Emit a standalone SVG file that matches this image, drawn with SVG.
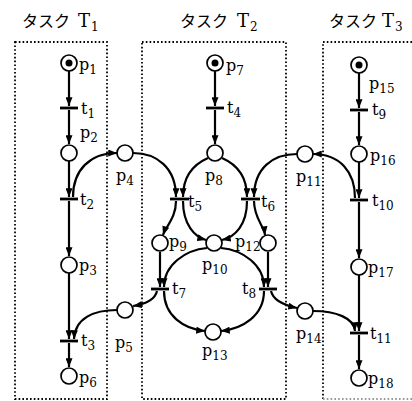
<svg xmlns="http://www.w3.org/2000/svg" width="412" height="401" viewBox="0 0 412 401">
<style>
.box{fill:none;stroke:#000;stroke-width:1.8;stroke-dasharray:1.6 2.2}
.pl{fill:#fff;stroke:#000;stroke-width:1.7}
.tok{fill:#000}
.tr{stroke:#000;stroke-width:2.8}
.arc{fill:none;stroke:#000;stroke-width:2.2;marker-end:url(#ah)}
.lb{font-family:"DejaVu Serif","Liberation Serif",serif;font-size:16px;fill:#000}
.sb{font-size:12px}
.kt{font-family:"Noto Sans CJK JP",sans-serif;font-size:16px;fill:#000}
.tt{font-family:"DejaVu Serif","Liberation Serif",serif;font-size:18px;fill:#000}
</style>
<defs>
<marker id="ah" viewBox="0 0 10 8" refX="10" refY="4" markerWidth="9" markerHeight="7" markerUnits="userSpaceOnUse" orient="auto"><path d="M0,0 L10,4 L0,8 z" fill="#000"/></marker>
</defs>
<rect width="412" height="401" fill="#fff"/>
<g id="titles">
<text class="kt" x="22" y="27">タスク</text><text class="tt" x="78" y="27">T<tspan class="sb" x="91" dy="4">1</tspan></text>
<text class="kt" x="180" y="27">タスク</text><text class="tt" x="237" y="27">T<tspan class="sb" x="250" dy="4">2</tspan></text>
<text class="kt" x="329" y="27">タスク</text><text class="tt" x="382" y="27">T<tspan class="sb" x="395" dy="4">3</tspan></text>
</g>
<g id="boxes">
<rect class="box" x="15" y="42" width="92" height="357"/>
<rect class="box" x="142" y="42" width="144" height="357"/>
<path class="box" d="M412,42 L323,42 L323,399"/>
<path class="box" d="M323,399 L412,399" style="stroke:#999"/>
</g>
<g id="connectors">
<path class="arc" d="M69,71 L69,106"/>
<path class="arc" d="M69,110 L69,144"/>
<path class="arc" d="M69,161 L69,197"/>
<path class="arc" d="M69,201 L69,256"/>
<path class="arc" d="M69,273 L69,339"/>
<path class="arc" d="M69,343 L69,367"/>
<path class="arc" d="M215,71 L215,106"/>
<path class="arc" d="M215,110 L215,144"/>
<path class="arc" d="M359,73 L359,108"/>
<path class="arc" d="M359,112 L359,145"/>
<path class="arc" d="M359,162 L359,198"/>
<path class="arc" d="M359,202 L359,258"/>
<path class="arc" d="M359,275 L359,331"/>
<path class="arc" d="M359,335 L359,369"/>
<path class="arc" d="M160,252 L160,287"/>
<path class="arc" d="M268,252 L268,287"/>
<path class="arc" d="M73,197 C73,170 90,153 117,153"/>
<path class="arc" d="M133,153 C157,153 176,168 176,197"/>
<path class="arc" d="M208,158 C192,165 183,177 183,197"/>
<path class="arc" d="M176,201 C176,218 166,226 163,235"/>
<path class="arc" d="M183,201 C183,225 195,237 206,240"/>
<path class="arc" d="M222,158 C238,165 247,177 247,197"/>
<path class="arc" d="M297,154 C273,154 254,168 254,197"/>
<path class="arc" d="M247,201 C247,225 235,237 222,240"/>
<path class="arc" d="M254,201 C254,218 264,226 265,235"/>
<path class="arc" d="M355,198 C355,172 340,154 313,154"/>
<path class="arc" d="M207,248 C185,250 164,265 164,287"/>
<path class="arc" d="M221,248 C243,250 264,265 264,287"/>
<path class="arc" d="M164,291 C164,316 184,329 205,331"/>
<path class="arc" d="M264,291 C264,316 242,329 221,331"/>
<path class="arc" d="M157,291 C155,300 146,304 133,306"/>
<path class="arc" d="M117,310 C94,310 75,318 74,339"/>
<path class="arc" d="M271,291 C273,300 283,305 297,308"/>
<path class="arc" d="M313,311 C336,311 354,318 355,331"/>
</g>
<g id="p1"><circle class="pl" cx="69" cy="63" r="8"/><circle class="tok" cx="69" cy="63" r="3.5"/><text class="lb" x="79" y="70">p<tspan class="sb" dy="4">1</tspan></text></g>
<g id="t1"><line class="tr" x1="60" y1="108" x2="78" y2="108"/><text class="lb" x="81" y="114">t<tspan class="sb" dy="4">1</tspan></text></g>
<g id="p2"><circle class="pl" cx="69" cy="153" r="8"/><text class="lb" x="80" y="138">p<tspan class="sb" dy="4">2</tspan></text></g>
<g id="t2"><line class="tr" x1="60" y1="199" x2="78" y2="199"/><text class="lb" x="80" y="205">t<tspan class="sb" dy="4">2</tspan></text></g>
<g id="p3"><circle class="pl" cx="69" cy="265" r="8"/><text class="lb" x="79" y="271">p<tspan class="sb" dy="4">3</tspan></text></g>
<g id="t3"><line class="tr" x1="60" y1="341" x2="78" y2="341"/><text class="lb" x="81" y="346">t<tspan class="sb" dy="4">3</tspan></text></g>
<g id="p6"><circle class="pl" cx="69" cy="376" r="8"/><text class="lb" x="79" y="383">p<tspan class="sb" dy="4">6</tspan></text></g>
<g id="p4"><circle class="pl" cx="125" cy="153" r="8"/><text class="lb" x="116" y="181">p<tspan class="sb" dy="4">4</tspan></text></g>
<g id="p5"><circle class="pl" cx="125" cy="310" r="8"/><text class="lb" x="115" y="348">p<tspan class="sb" dy="4">5</tspan></text></g>
<g id="p7"><circle class="pl" cx="215" cy="63" r="8"/><circle class="tok" cx="215" cy="63" r="3.5"/><text class="lb" x="226" y="71">p<tspan class="sb" dy="4">7</tspan></text></g>
<g id="t4"><line class="tr" x1="206" y1="108" x2="224" y2="108"/><text class="lb" x="227" y="113">t<tspan class="sb" dy="4">4</tspan></text></g>
<g id="p8"><circle class="pl" cx="215" cy="153" r="8"/><text class="lb" x="205" y="181">p<tspan class="sb" dy="4">8</tspan></text></g>
<g id="t5"><line class="tr" x1="170" y1="199" x2="189" y2="199"/><text class="lb" x="188" y="207">t<tspan class="sb" dy="4">5</tspan></text></g>
<g id="t6"><line class="tr" x1="241" y1="199" x2="260" y2="199"/><text class="lb" x="261" y="207">t<tspan class="sb" dy="4">6</tspan></text></g>
<g id="p9"><circle class="pl" cx="160" cy="243" r="8"/><text class="lb" x="169" y="247">p<tspan class="sb" dy="4">9</tspan></text></g>
<g id="p10"><circle class="pl" cx="214" cy="243" r="8"/><text class="lb" x="202" y="270">p<tspan class="sb" dy="4">10</tspan></text></g>
<g id="p12"><circle class="pl" cx="268" cy="243" r="8"/><text class="lb" x="235" y="247">p<tspan class="sb" dy="4">12</tspan></text></g>
<g id="t7"><line class="tr" x1="151" y1="289" x2="169" y2="289"/><text class="lb" x="172" y="294">t<tspan class="sb" dy="4">7</tspan></text></g>
<g id="t8"><line class="tr" x1="259" y1="289" x2="277" y2="289"/><text class="lb" x="242" y="294">t<tspan class="sb" dy="4">8</tspan></text></g>
<g id="p13"><circle class="pl" cx="213" cy="332" r="8"/><text class="lb" x="202" y="356">p<tspan class="sb" dy="4">13</tspan></text></g>
<g id="p11"><circle class="pl" cx="305" cy="154" r="8"/><text class="lb" x="296" y="182">p<tspan class="sb" dy="4">11</tspan></text></g>
<g id="p14"><circle class="pl" cx="305" cy="311" r="8"/><text class="lb" x="296" y="339">p<tspan class="sb" dy="4">14</tspan></text></g>
<g id="p15"><circle class="pl" cx="359" cy="65" r="8"/><circle class="tok" cx="359" cy="65" r="3.5"/><text class="lb" x="369" y="89">p<tspan class="sb" dy="4">15</tspan></text></g>
<g id="t9"><line class="tr" x1="350" y1="110" x2="368" y2="110"/><text class="lb" x="372" y="115">t<tspan class="sb" dy="4">9</tspan></text></g>
<g id="p16"><circle class="pl" cx="359" cy="154" r="8"/><text class="lb" x="370" y="161">p<tspan class="sb" dy="4">16</tspan></text></g>
<g id="t10"><line class="tr" x1="350" y1="200" x2="368" y2="200"/><text class="lb" x="372" y="206">t<tspan class="sb" dy="4">10</tspan></text></g>
<g id="p17"><circle class="pl" cx="359" cy="267" r="8"/><text class="lb" x="368" y="273">p<tspan class="sb" dy="4">17</tspan></text></g>
<g id="t11"><line class="tr" x1="350" y1="333" x2="368" y2="333"/><text class="lb" x="370" y="339">t<tspan class="sb" dy="4">11</tspan></text></g>
<g id="p18"><circle class="pl" cx="359" cy="378" r="8"/><text class="lb" x="368" y="384">p<tspan class="sb" dy="4">18</tspan></text></g>
</svg>
